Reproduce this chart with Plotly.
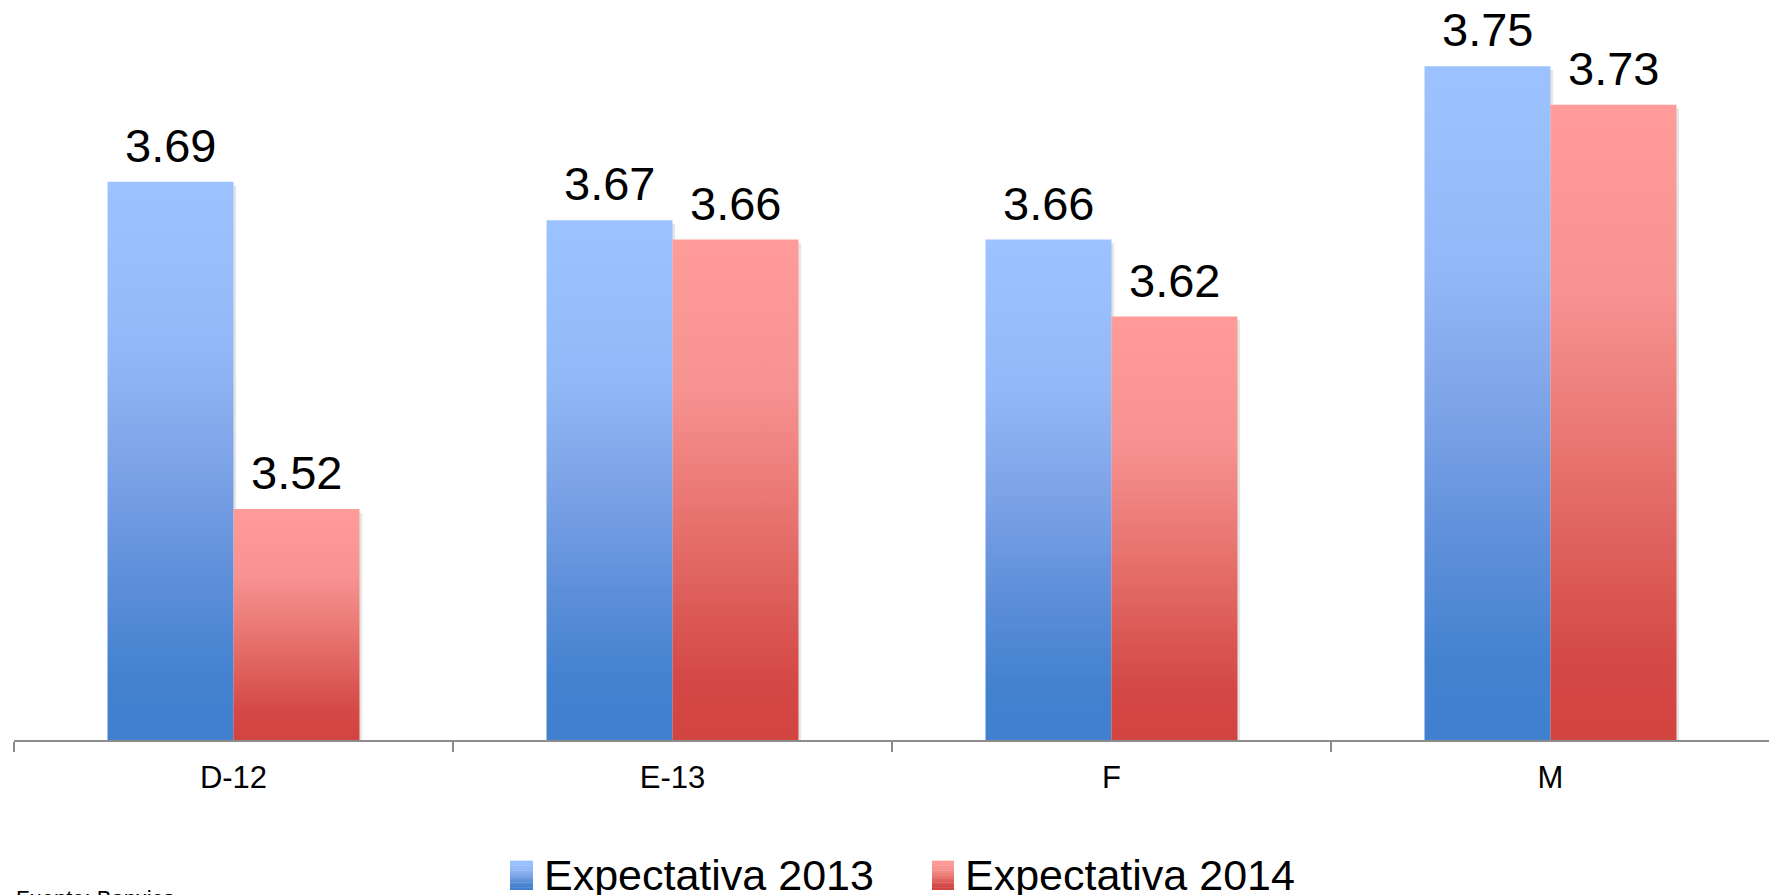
import plotly.graph_objects as go

categories = ["D-12", "E-13", "F", "M"]
exp_2013 = [3.69, 3.67, 3.66, 3.75]
exp_2014 = [3.52, 3.66, 3.62, 3.73]
series_names = ["Expectativa 2013", "Expectativa 2014"]
source_text = "Fuente: Banxico"

FONT = "Arial, Liberation Sans, sans-serif"
OFF = 8  # page body margin
W, H = 1777 - OFF, 895 - OFF
ML, MR, MT, MB = 14 - OFF, 7, 0, 155
BASE = 3.40
PX_PER_UNIT = 1925.0
YMAX = BASE + (H - MT - MB) / PX_PER_UNIT
BAR_W = 0.287

blue_scale = [[0.0, "#4080CE"], [0.12, "#4482D0"], [0.3, "#5F90DA"],
              [0.5, "#7EA4E8"], [0.7, "#93B8F7"], [1.0, "#9CC3FF"]]
red_scale = [[0.0, "#D24440"], [0.12, "#D44845"], [0.3, "#DE605C"],
             [0.5, "#EB7A76"], [0.7, "#F69290"], [1.0, "#FF9C99"]]

fig = go.Figure()
annotations = []

for s, (vals, cs) in enumerate([(exp_2013, blue_scale), (exp_2014, red_scale)]):
    for i, v in enumerate(vals):
        x0 = i - BAR_W if s == 0 else i
        x1 = x0 + BAR_W
        # soft shadow
        fig.add_trace(go.Scatter(
            x=[x0 + 0.006, x0 + 0.006, x1 + 0.006, x1 + 0.006, x0 + 0.006],
            y=[BASE, v - 0.002, v - 0.002, BASE, BASE],
            fill="toself", mode="none", fillcolor="rgba(0,0,0,0.10)",
            showlegend=False, hoverinfo="skip"))
        fig.add_trace(go.Scatter(
            x=[x0, x0, x1, x1, x0],
            y=[BASE, v, v, BASE, BASE],
            fill="toself", mode="none",
            fillgradient=dict(type="vertical", colorscale=cs),
            name=series_names[s], showlegend=False,
            hovertemplate=f"{categories[i]}: {v:.2f}<extra>{series_names[s]}</extra>"))
        annotations.append(dict(
            x=(x0 + x1) / 2, y=v, xref="x", yref="y", text=f"{v:.2f}",
            showarrow=False, yanchor="bottom", yshift=8,
            font=dict(family=FONT, size=47, color="#000000")))

plot_w = W - ML - MR
plot_h = H - MT - MB


def px_x(px):
    # px given in page coordinates
    return (px - OFF - ML) / plot_w


def px_y(py):
    return (H - MB - (py - OFF)) / plot_h


shapes = []
legend_items = [(510, 533, blue_scale, 542, series_names[0]),
                (932, 954, red_scale, 963, series_names[1])]
top_py, bot_py = 861, 890
nstrips = 12


def interp(scale, t):
    for k in range(len(scale) - 1):
        a, ca = scale[k]
        b, cb = scale[k + 1]
        if a <= t <= b:
            f = (t - a) / (b - a) if b > a else 0
            ra, ga, ba_ = int(ca[1:3], 16), int(ca[3:5], 16), int(ca[5:7], 16)
            rb, gb, bb = int(cb[1:3], 16), int(cb[3:5], 16), int(cb[5:7], 16)
            return "rgb(%d,%d,%d)" % (ra + (rb - ra) * f, ga + (gb - ga) * f, ba_ + (bb - ba_) * f)
    return scale[-1][1]


for (lx0, lx1, cs, tx, name) in legend_items:
    for k in range(nstrips):
        py0 = bot_py - (bot_py - top_py) * k / nstrips
        py1 = bot_py - (bot_py - top_py) * (k + 1) / nstrips
        t = (k + 0.5) / nstrips
        shapes.append(dict(type="rect", xref="paper", yref="paper",
                           x0=px_x(lx0), x1=px_x(lx1), y0=px_y(py0), y1=px_y(py1) + 0.0005,
                           fillcolor=interp(cs, t), line=dict(width=0), layer="above"))
    annotations.append(dict(x=px_x(tx), y=px_y(875), xref="paper", yref="paper",
                            text=name, showarrow=False, xanchor="left", yanchor="middle",
                            font=dict(family=FONT, size=43, color="#000000")))

annotations.append(dict(x=px_x(14), y=px_y(884), xref="paper", yref="paper", text=source_text,
                        showarrow=False, xanchor="left", yanchor="top",
                        font=dict(family=FONT, size=22, color="#000000")))

fig.update_layout(
    width=W, height=H,
    margin=dict(l=ML, r=MR, t=MT, b=MB),
    paper_bgcolor="white", plot_bgcolor="white",
    showlegend=False,
    annotations=annotations,
    shapes=shapes,
    xaxis=dict(
        range=[-0.5, len(categories) - 0.5],
        tickmode="array", tickvals=list(range(len(categories))), ticktext=categories,
        ticks="outside", ticklen=9, tickcolor="rgba(0,0,0,0)",
        tickfont=dict(family=FONT, size=31, color="#000000"),
        showline=True, linecolor="#8C8C8C", linewidth=2,
        showgrid=False, zeroline=False, fixedrange=True,
        minor=dict(tickmode="array",
                   tickvals=[i - 0.5 for i in range(len(categories) + 1)],
                   ticks="outside", ticklen=10, tickwidth=2, tickcolor="#8C8C8C",
                   showgrid=False),
    ),
    yaxis=dict(range=[BASE, YMAX], visible=False, showgrid=False, zeroline=False,
               fixedrange=True),
)

fig.write_html("out.html")
